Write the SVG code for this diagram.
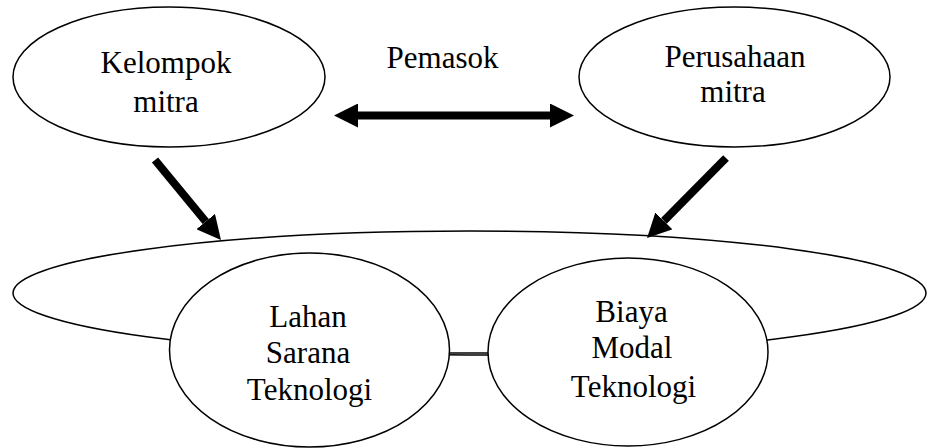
<svg xmlns="http://www.w3.org/2000/svg" width="928" height="448" viewBox="0 0 928 448">
<style>
.sh{fill:#fff;stroke:#000;stroke-width:1.5}
.tx{font-family:"Liberation Serif","Times New Roman",serif;font-size:31px;fill:#000;text-anchor:middle}
.ar{stroke:#000;stroke-width:8;fill:none}
</style>
<defs>
<marker id="ah" viewBox="0 0 24 24" refX="0" refY="12" markerWidth="24" markerHeight="24" markerUnits="userSpaceOnUse" orient="auto-start-reverse">
<path d="M0,0 L24,12 L0,24 z" fill="#000"/>
</marker>
</defs>
<rect width="928" height="448" fill="#fff"/>
<g id="kelompok">
<ellipse class="sh" cx="169" cy="77" rx="156" ry="70"/>
<text class="tx" x="166" y="73">Kelompok</text>
<text class="tx" x="166" y="112">mitra</text>
</g>
<g id="perusahaan">
<ellipse class="sh" cx="734.5" cy="77" rx="155.5" ry="70"/>
<text class="tx" x="735" y="67">Perusahaan</text>
<text class="tx" x="733" y="102">mitra</text>
</g>
<g id="pemasok">
<text class="tx" x="442.5" y="68">Pemasok</text>
</g>
<g id="gabungan">
<ellipse class="sh" cx="469.5" cy="293" rx="456.5" ry="62"/>
</g>
<g id="lahan">
<ellipse class="sh" cx="309.5" cy="350" rx="140" ry="97"/>
<text class="tx" x="308" y="327">Lahan</text>
<text class="tx" x="308" y="363">Sarana</text>
<text class="tx" x="309.5" y="400">Teknologi</text>
</g>
<g id="biaya">
<ellipse class="sh" cx="628" cy="352" rx="140" ry="94"/>
<text class="tx" x="631.5" y="322">Biaya</text>
<text class="tx" x="632" y="358">Modal</text>
<text class="tx" x="633.5" y="397">Teknologi</text>
</g>
<g id="connectors">
<line x1="449" y1="353" x2="488" y2="353" stroke="#000" stroke-width="1.5"/>
<line class="ar" x1="358" y1="115.5" x2="550" y2="115.5" marker-start="url(#ah)" marker-end="url(#ah)"/>
<line class="ar" x1="155" y1="160" x2="205.7" y2="221.5" marker-end="url(#ah)"/>
<line class="ar" x1="726" y1="158" x2="663.9" y2="220.9" marker-end="url(#ah)"/>
</g>
</svg>
